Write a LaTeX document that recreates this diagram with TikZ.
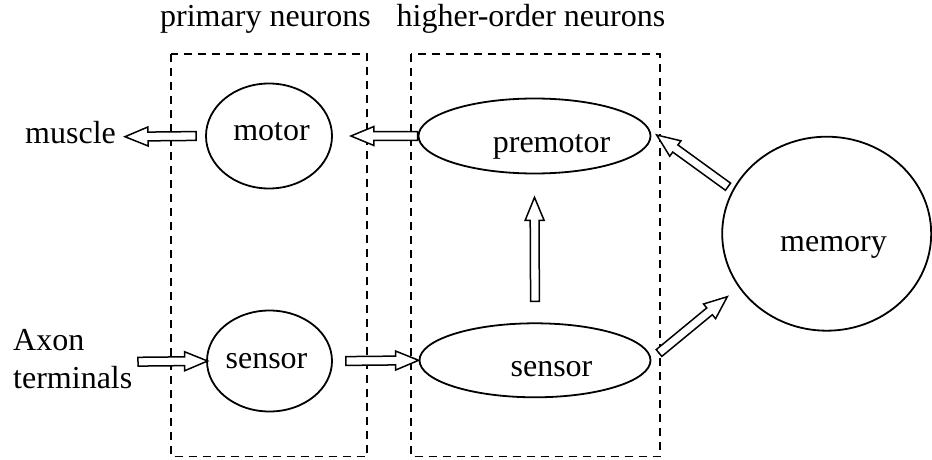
\documentclass[tikz,border=0pt]{standalone}
\usepackage{fontspec}
\setmainfont{Liberation Serif}
\usetikzlibrary{shapes.geometric,calc}

% hollow block arrow from tail #1 to tip #2
\newcommand\hollowarrow[2]{%
  \coordinate (ha-m) at ($(#2)!23pt!(#1)$);
  \draw[blockarrow]
    ($(#1)!4.4pt!90:(#2)$) -- ($(ha-m)!4.4pt!90:(#2)$) --
    ($(ha-m)!9.5pt!90:(#2)$) -- (#2) --
    ($(ha-m)!9.5pt!-90:(#2)$) -- ($(ha-m)!4.4pt!-90:(#2)$) --
    ($(#1)!4.4pt!-90:(#2)$) -- cycle;
}

\begin{document}
\begin{tikzpicture}[x=1pt, y=-1pt,
  every node/.style={font=\fontsize{32}{38}\selectfont, inner sep=0pt},
  cell/.style={draw, ellipse, line width=1.8pt, minimum width=#1},
  group/.style={draw, line width=1.7pt, dash pattern=on 8pt off 6pt},
  blockarrow/.style={draw, line width=1.5pt, fill=white, line join=miter},
  lbl/.style={anchor=base}]
\useasboundingbox (0,0) rectangle (932,460);

% dashed groups
\draw[group] (171,54) rectangle (367,456.5);
\draw[group] (411,54) rectangle (660,456.5);
\node[lbl] (hprim) at (265.5,27) {primary neurons};
\node[lbl] (hhigh) at (531,27) {higher-order neurons};

% neuron groups
\node[cell=126pt, minimum height=105pt] (motor) at (269,136) {};
\node[cell=125pt, minimum height=101pt] (sensL) at (269.5,361) {};
\node[cell=232pt, minimum height=75pt] (premotor) at (534.5,136) {};
\node[cell=231pt, minimum height=74pt] (sensR) at (535,360.3) {};
\node[cell=209pt, minimum height=194pt] (memory) at (826.7,233.7) {};

\node[lbl] (tmotor) at (271.5,140.7) {motor};
\node[lbl] (tsensL) at (266.5,368.3) {sensor};
\node[lbl] (tpremotor) at (551.5,152) {premotor};
\node[lbl] (tsensR) at (551.5,376.7) {sensor};
\node[lbl] (tmemory) at (833.5,251.5) {memory};

% outside labels
\node[anchor=base west] (muscle) at (25,143.3) {muscle};
\node[anchor=base west, align=left] (axon) at (13,388) {Axon\\terminals};

% arrow end points
\coordinate (a1t) at ([xshift=-9pt]motor.west);
\coordinate (a1h) at (125,136.7);
\coordinate (a2t) at (premotor.west);
\coordinate (a2h) at ([xshift=18pt]motor.east);
\coordinate (a3t) at (138,361.7);
\coordinate (a3h) at ([xshift=1.5pt]sensL.west);
\coordinate (a4t) at ([xshift=13pt]sensL.east);
\coordinate (a4h) at (sensR.west);
\coordinate (a5t) at ([yshift=21pt]sensR.north);
\coordinate (a5h) at ([yshift=-23pt]premotor.south);
\coordinate (a6t) at (728,186.7);
\coordinate (a6h) at (656.7,135);
\coordinate (a7t) at (659,353);
\coordinate (a7h) at (727.3,296.7);

\hollowarrow{a1t}{a1h}
\hollowarrow{a2t}{a2h}
\hollowarrow{a3t}{a3h}
\hollowarrow{a4t}{a4h}
\hollowarrow{a5t}{a5h}
\hollowarrow{a6t}{a6h}
\hollowarrow{a7t}{a7h}
\end{tikzpicture}
\end{document}
